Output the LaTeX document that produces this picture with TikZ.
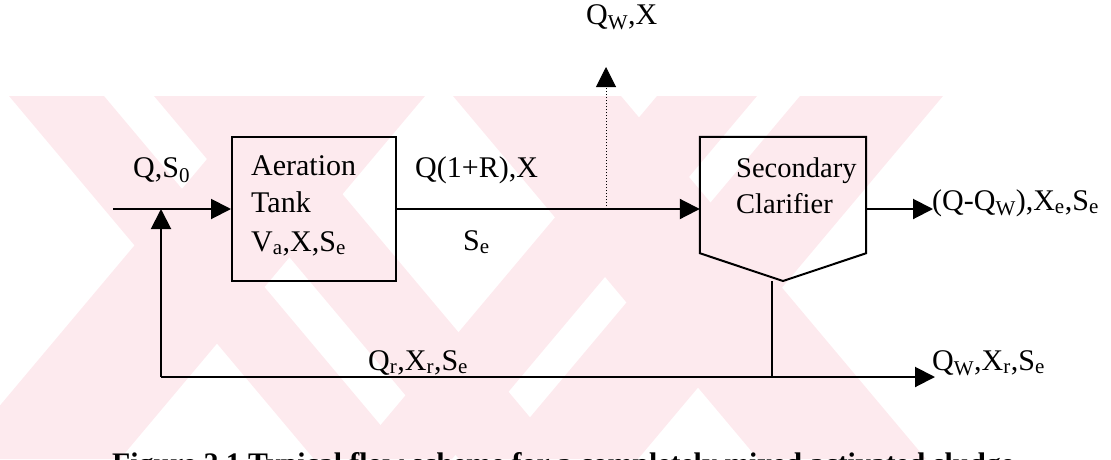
\documentclass[tikz,border=0pt]{standalone}
\usepackage{fontspec}
\setmainfont{Liberation Serif}
\usetikzlibrary{arrows.meta}
\definecolor{wm}{RGB}{253,234,238}
\tikzset{
  lbl/.style={inner sep=0pt, anchor=base west, font=\fontsize{30}{35}\selectfont},
  flow/.style={line width=2pt, -{Triangle[length=20pt,width=20pt]}},
  boxshape/.style={draw=black, line width=2pt},
}
\begin{document}
\begin{tikzpicture}[x=1pt,y=-1pt]
\useasboundingbox (0,0) rectangle (1111,459);
\clip (0,0) rectangle (1111,459);
% watermark (approximation)
\begin{scope}
\clip (0,96) rectangle (960,459);
\fill[wm] (9,96) -- (104,96) -- (409,459) -- (314,459) -- cycle;
\fill[wm] (154,96) -- (260,96) -- (565,459) -- (459,459) -- cycle;
\fill[wm] (260,96) -- (425,96) -- (120,459) -- (-45,459) -- cycle;
\fill[wm] (453,96) -- (621,96) -- (926,459) -- (758,459) -- cycle;
\fill[wm] (657,96) -- (757,96) -- (452,459) -- (352,459) -- cycle;
\fill[wm] (800,96) -- (943,96) -- (638,459) -- (495,459) -- cycle;
\end{scope}
% aeration tank
\node[boxshape, minimum width=164pt, minimum height=144pt, inner sep=0pt] (aer) at (314,209) {};
\node[lbl] (aer1) at (251,175) {Aeration};
\node[lbl] (aer2) at (251,212) {Tank};
\node[lbl] (aer3) at (251,251) {V\textsubscript{a},X,S\textsubscript{e}};
% secondary clarifier
\node[minimum width=166pt, minimum height=116pt, inner sep=0pt] (clar) at (783,195) {};
\coordinate (apex) at (783,281);
\draw[boxshape, line join=miter] (clar.north west) -- (clar.north east) -- (clar.south east) -- (apex) -- (clar.south west) -- cycle;
\node[lbl, font=\fontsize{28.5}{33}\selectfont] (cl1) at (736,177) {Secondary};
\node[lbl, font=\fontsize{28.5}{33}\selectfont] (cl2) at (736,213) {Clarifier};
% coordinates
\coordinate (in) at (113,209);
\coordinate (j1) at (161,209);
\coordinate (rb) at (161,377);
\coordinate (cb) at (772,281);
\coordinate (jc) at (772,377);
\coordinate (wout) at (935,377);
\coordinate (d0) at (606,209);
\coordinate (d1) at (606,67);
\coordinate (eout) at (933,209);
% connectors
\draw[flow] (in) -- (aer.west);
\draw[flow] (aer.east) -- (aer.east -| clar.west);
\draw[line width=1pt, dotted, -{Triangle[length=20pt,width=20pt]}] (d0) -- (d1);
\draw[flow] (clar.east |- eout) -- (eout);
\draw[line width=1.5pt] (cb) -- (jc);
\draw[flow] (rb) -- (wout);
\draw[flow] (rb) -- (j1);
% labels
\node[lbl] (l1) at (133,177) {Q,S\textsubscript{0}};
\node[lbl] (l2) at (415,177) {Q(1+R),X};
\node[lbl] (l3) at (463,250) {S\textsubscript{e}};
\node[lbl] (l4) at (586,24) {Q\textsubscript{W},X};
\node[lbl] (l5) at (932,210) {(Q-Q\textsubscript{W}),X\textsubscript{e},S\textsubscript{e}};
\node[lbl] (l6) at (368,370) {Q\textsubscript{r},X\textsubscript{r},S\textsubscript{e}};
\node[lbl] (l7) at (932,370) {Q\textsubscript{W},X\textsubscript{r},S\textsubscript{e}};
% caption (cut off at the lower edge, as in the reference)
\node[lbl, font=\fontsize{29.8}{34}\selectfont\bfseries] (cap) at (112,473) {Figure 2.1 Typical flow scheme for a completely mixed activated sludge};
\end{tikzpicture}
\end{document}
